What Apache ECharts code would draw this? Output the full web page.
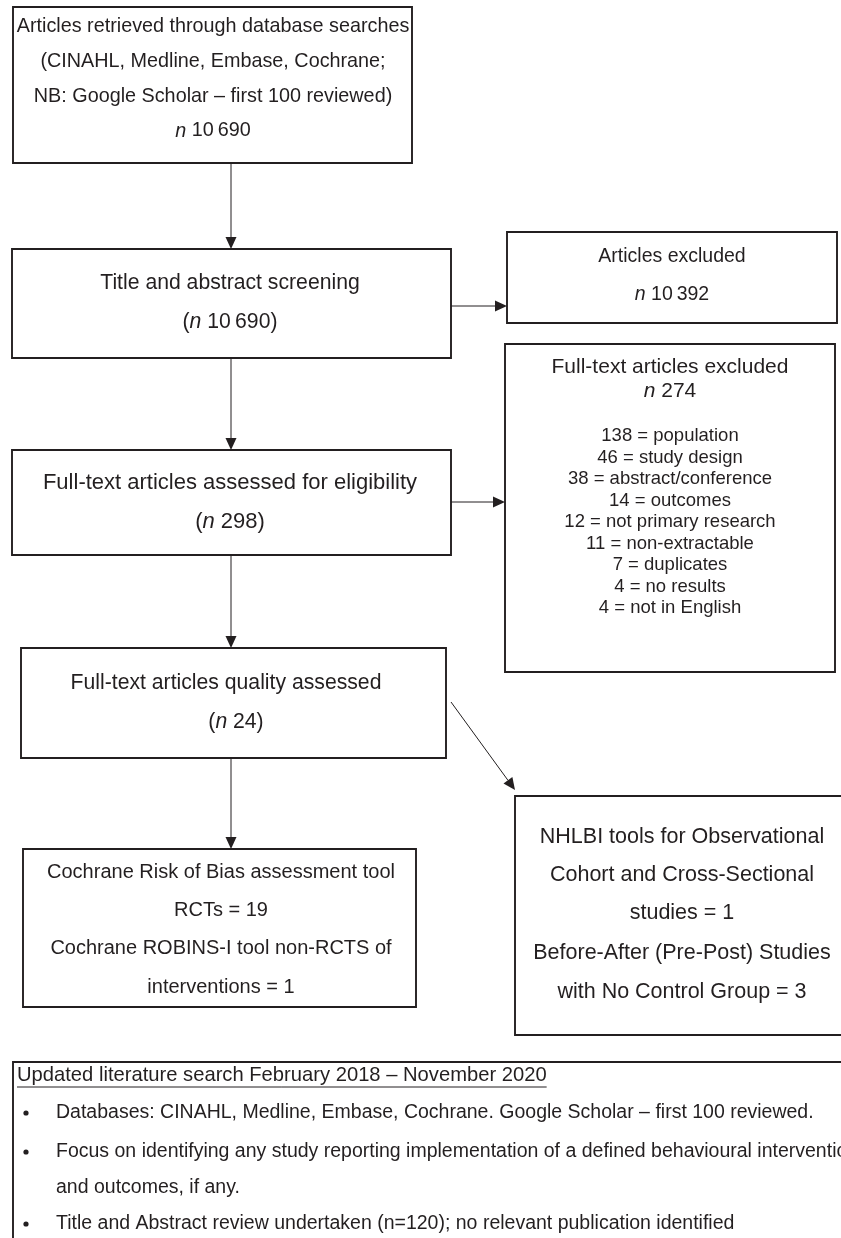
<!DOCTYPE html>
<html><head><meta charset="utf-8">
<script src="https://cdn.jsdelivr.net/npm/echarts@6/dist/echarts.min.js"></script>
<style>html,body{margin:0;padding:0;background:#fff}#c{width:841px;height:1238px}</style>
</head><body><div id="c"></div>
<script>
// ---------- data ----------
const retrievedCount = 10690;
const screenedCount = 10690;
const excludedCount = 10392;
const assessedCount = 298;
const ftExcludedCount = 274;
const qualityCount = 24;
const exclusionReasons = ['population','study design','abstract/conference','outcomes','not primary research','non-extractable','duplicates','no results','not in English'];
const exclusionCounts = [138,46,38,14,12,11,7,4,4];
const rctCount = 19;
const robinsCount = 1;
const nhlbiCount = 1;
const prePostCount = 3;
const updatedHeading = 'Updated literature search February 2018 – November 2020';
const updatedBullets = [
  ['Databases: CINAHL, Medline, Embase, Cochrane. Google Scholar – first 100 reviewed.'],
  ['Focus on identifying any study reporting implementation of a defined behavioural intervention', 'and outcomes, if any.'],
  ['Title and Abstract review undertaken (n=120); no relevant publication identified']
];

// ---------- helpers ----------
const fmt = v => v >= 10000 ? String(v).replace(/(\d)(?=(\d{3})+$)/g, '$1\u2009') : String(v);
const nTxt = v => '{i|n} ' + fmt(v);

// ---------- layout (canvas units) ----------
const FONT = '"Liberation Sans", Arial, Helvetica, sans-serif';
const INK = '#231f20';
const boxRects = [
  [13,7,412,163],     // retrieved
  [12,249,451,358],   // screening
  [507,232,837,323],  // excluded
  [505,344,835,672],  // full-text excluded
  [12,450,451,555],   // assessed
  [21,648,446,758],   // quality
  [23,849,416,1007],  // cochrane
  [515,796,848,1035], // nhlbi
  [13,1062,850,1250]  // updated search
];
const arrows = [
  [231,163,231,249],
  [451,306,507,306],
  [231,358,231,450],
  [451,502,505,502],
  [231,555,231,648],
  [451,702,515,790],
  [231,758,231,849]
];

// text items: [x, y, text, size, align]
const texts = [];
function block(cxs, ys, lines, size){ lines.forEach((t,i)=>texts.push([Array.isArray(cxs)?cxs[i]:cxs, ys[i], t, size, 'center'])); }
block(213, [27,62,97,131], ['Articles retrieved through database searches','(CINAHL, Medline, Embase, Cochrane;','NB: Google Scholar – first 100 reviewed)', nTxt(retrievedCount)], 19.8);
block(230, [283,322], ['Title and abstract screening', '(' + nTxt(screenedCount) + ')'], 21.2);
block(672, [257,295], ['Articles excluded', nTxt(excludedCount)], 19.5);
block(670, [367,391], ['Full-text articles excluded', nTxt(ftExcludedCount)], 21);
block(670, exclusionReasons.map((_,i)=>436+i*21.5), exclusionReasons.map((r,i)=>exclusionCounts[i] + ' = ' + r), 18.5);
block(230, [483,522], ['Full-text articles assessed for eligibility', '(' + nTxt(assessedCount) + ')'], 22);
block([226,236], [683,722], ['Full-text articles quality assessed', '(' + nTxt(qualityCount) + ')'], 21.2);
block(221, [872,910,948,987], ['Cochrane Risk of Bias assessment tool','RCTs = ' + rctCount,'Cochrane ROBINS-I tool non-RCTS of','interventions = ' + robinsCount], 20);
block(682, [837,875,913,953,992], ['NHLBI tools for Observational','Cohort and Cross-Sectional','studies = ' + nhlbiCount,'Before-After (Pre-Post) Studies','with No Control Group = ' + prePostCount], 21.5);
const BOTTOM_SIZE = 19.5;
const HEAD_SIZE = 20.2;
texts.push([17, 1075, updatedHeading, HEAD_SIZE, 'left']);
const bulletYs = [[1113],[1152,1188],[1224]];
const bulletDots = [];
updatedBullets.forEach((lines,i)=>{
  bulletDots.push([26, bulletYs[i][0]]);
  lines.forEach((t,j)=>texts.push([56, bulletYs[i][j], t, BOTTOM_SIZE, 'left']));
});

// measure heading width for underline
const mctx = document.createElement('canvas').getContext('2d');
mctx.font = HEAD_SIZE + 'px ' + FONT;
const headW = mctx.measureText(updatedHeading).width;
const underline = [[17, 1087, 17 + headW, 1087]];

const chart = echarts.init(document.getElementById('c'), null, {renderer:'canvas'});
chart.setOption({
  animation: false,
  backgroundColor: '#fff',
  grid: {left:0, right:0, top:0, bottom:0},
  xAxis: {type:'value', min:0, max:841, show:false},
  yAxis: {type:'value', min:0, max:1238, inverse:true, show:false},
  series: [
    {
      type:'custom', coordinateSystem:'cartesian2d', clip:false, silent:true,
      data: boxRects.map(r=>[r[0], r[1]]),
      renderItem(params, api){
        const r = boxRects[params.dataIndex];
        const p1 = api.coord([r[0], r[1]]), p2 = api.coord([r[2], r[3]]);
        return {type:'rect', shape:{x:p1[0], y:p1[1], width:p2[0]-p1[0], height:p2[1]-p1[1]},
          style:{fill:null, stroke:INK, lineWidth:1.9}};
      }
    },
    {
      type:'custom', coordinateSystem:'cartesian2d', clip:false, silent:true,
      data: arrows.map(a=>[a[0], a[1]]),
      renderItem(params, api){
        const a = arrows[params.dataIndex];
        const p1 = api.coord([a[0], a[1]]), p2 = api.coord([a[2], a[3]]);
        const dx = p2[0]-p1[0], dy = p2[1]-p1[1], L = Math.hypot(dx,dy);
        const ux = dx/L, uy = dy/L, hl = 12, hw = 5.5;
        const bx = p2[0]-ux*hl, by = p2[1]-uy*hl;
        return {type:'group', children:[
          {type:'line', shape:{x1:p1[0], y1:p1[1], x2:bx, y2:by}, style:{stroke:INK, lineWidth:1}},
          {type:'polygon', shape:{points:[[p2[0],p2[1]],[bx-uy*hw, by+ux*hw],[bx+uy*hw, by-ux*hw]]}, style:{fill:INK}}
        ]};
      }
    },
    {
      type:'custom', coordinateSystem:'cartesian2d', clip:false, silent:true,
      data: underline.map(u=>[u[0], u[1]]),
      renderItem(params, api){
        const u = underline[params.dataIndex];
        const p1 = api.coord([u[0], u[1]]), p2 = api.coord([u[2], u[3]]);
        return {type:'line', shape:{x1:p1[0], y1:p1[1], x2:p2[0], y2:p2[1]}, style:{stroke:INK, lineWidth:1}};
      }
    },
    {
      type:'custom', coordinateSystem:'cartesian2d', clip:false, silent:true,
      data: bulletDots,
      renderItem(params, api){
        const p = api.coord(bulletDots[params.dataIndex]);
        return {type:'circle', shape:{cx:p[0], cy:p[1], r:2.6}, style:{fill:INK}};
      }
    },
    {
      type:'custom', coordinateSystem:'cartesian2d', clip:false, silent:true,
      data: texts.map(t=>[t[0], t[1]]),
      renderItem(params, api){
        const t = texts[params.dataIndex];
        const p = api.coord([t[0], t[1]]);
        return {type:'text', x:p[0], y:p[1], style:{
          text:t[2], fill:INK, fontFamily:FONT, fontSize:t[3], align:t[4], verticalAlign:'middle',
          rich:{ i:{fontStyle:'italic', fontFamily:FONT, fontSize:t[3], fill:INK} }
        }};
      }
    }
  ]
});
</script></body></html>
